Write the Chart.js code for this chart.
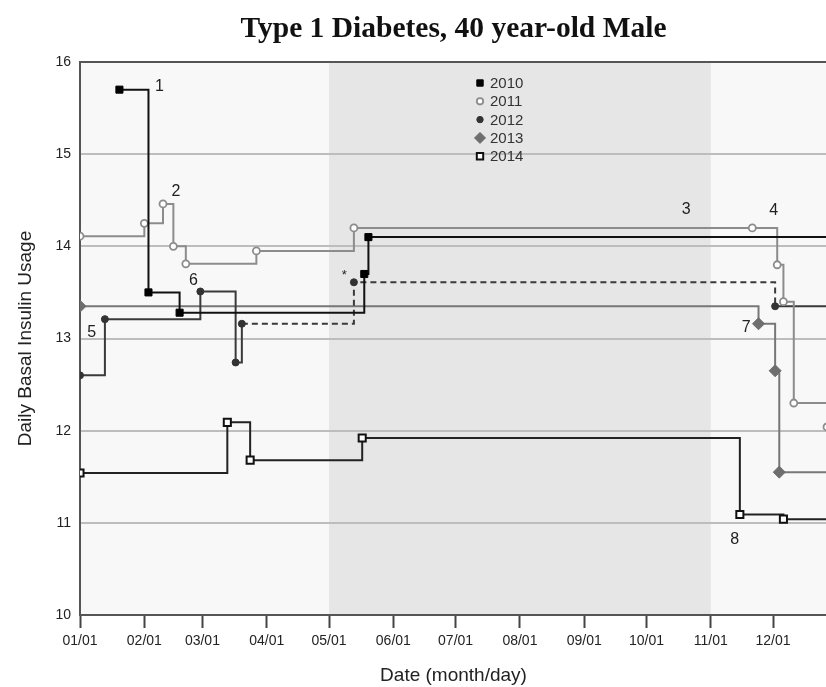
<!DOCTYPE html>
<html>
<head>
<meta charset="utf-8">
<script src="https://cdn.jsdelivr.net/npm/chart.js@4/dist/chart.umd.min.js"></script>
<style>
  body { margin: 0; background: #fff; overflow: hidden; }
</style>
</head>
<body>
<!-- canvas is a little wider than the window so the plot runs off the right edge like the source -->
<canvas id="insulin" width="834" height="687"></canvas>
<script>
// day of year (01/01 = 0) and daily basal units, one pair of arrays per year
const days2010 = [19, 33, 48, 137, 139, 360]
const vals2010 = [15.70, 13.50, 13.28, 13.70, 14.10, 14.10]

const days2011 = [0, 31, 40, 45, 51, 85, 132, 324, 336, 339, 344, 360]
const vals2011 = [14.11, 14.25, 14.46, 14.00, 13.81, 13.95, 14.20, 14.20, 13.80, 13.40, 12.30, 12.04]

const days2012 = [0, 12, 58, 75, 78, 132, 335, 360]
const vals2012 = [12.60, 13.21, 13.51, 12.74, 13.16, 13.61, 13.35, 13.35]

const days2013 = [0, 327, 335, 337, 360]
const vals2013 = [13.35, 13.16, 12.65, 11.55, 11.55]

const days2014 = [0, 71, 82, 136, 318, 339, 360]
const vals2014 = [11.54, 12.09, 11.68, 11.92, 11.09, 11.04, 11.04]

const monthDays = [0, 31, 59, 90, 120, 151, 181, 212, 243, 273, 304, 334]
const monthLabels = ['01/01', '02/01', '03/01', '04/01', '05/01', '06/01',
                     '07/01', '08/01', '09/01', '10/01', '11/01', '12/01']

// numbered notes on the chart
const noteText = ['1', '2', '3', '4', '5', '6', '7', '8', '*']
const noteDay  = [38.3, 46.3, 292.1, 334.3, 5.6, 54.7, 321.1, 315.5, 127.4]
const noteVal  = [15.73, 14.59, 14.40, 14.39, 13.06, 13.63, 13.12, 10.82, 13.68]

// grey band (summer months)
const bandStart = 120
const bandEnd = 304

const pts = (days, vals) => days.map((d, i) => ({ x: d, y: vals[i] }))
const hideLast = (n, r) => ctx => ctx.dataIndex === n - 1 ? 0 : r

const datasets = [
  {
    label: '2010', data: pts(days2010, vals2010), stepped: 'before',
    borderColor: '#111', borderWidth: 2,
    pointStyle: 'rect', pointRadius: hideLast(days2010.length, 5),
    pointBackgroundColor: '#000', pointBorderColor: '#000', pointBorderWidth: 1
  },
  {
    label: '2011', data: pts(days2011, vals2011), stepped: 'before',
    borderColor: '#8c8c8c', borderWidth: 2,
    pointStyle: 'circle', pointRadius: 3.5,
    pointBackgroundColor: '#fff', pointBorderColor: '#8c8c8c', pointBorderWidth: 1.8
  },
  {
    label: '2012', data: pts(days2012, vals2012), stepped: 'before',
    borderColor: '#3a3a3a', borderWidth: 2,
    pointStyle: 'circle', pointRadius: hideLast(days2012.length, 3.5),
    pointBackgroundColor: '#333', pointBorderColor: '#333', pointBorderWidth: 1,
    segment: {
      borderDash: ctx => (ctx.p0DataIndex === 4 || ctx.p0DataIndex === 5) ? [6, 4] : undefined
    }
  },
  {
    label: '2013', data: pts(days2013, vals2013), stepped: 'before',
    borderColor: '#777', borderWidth: 2,
    pointStyle: 'rectRot', pointRadius: hideLast(days2013.length, 6),
    pointBackgroundColor: '#6e6e6e', pointBorderColor: '#6e6e6e', pointBorderWidth: 1
  },
  {
    label: '2014', data: pts(days2014, vals2014), stepped: 'before',
    borderColor: '#222', borderWidth: 2,
    pointStyle: 'rect', pointRadius: hideLast(days2014.length, 5),
    pointBackgroundColor: '#fff', pointBorderColor: '#111', pointBorderWidth: 2
  }
]

const backdrop = {
  id: 'backdrop',
  beforeDraw(chart) {
    const { ctx, chartArea: a, scales: { x } } = chart
    ctx.save()
    ctx.fillStyle = '#f8f8f8'
    ctx.fillRect(a.left, a.top, a.right - a.left, a.bottom - a.top)
    ctx.fillStyle = '#e6e6e6'
    const x0 = x.getPixelForValue(bandStart)
    const x1 = x.getPixelForValue(bandEnd)
    ctx.fillRect(x0, a.top, x1 - x0, a.bottom - a.top)
    ctx.restore()
  }
}

const notesAndLegend = {
  id: 'notesAndLegend',
  afterDatasetsDraw(chart) {
    const { ctx, scales: { x, y } } = chart
    ctx.save()
    ctx.fillStyle = '#222'
    ctx.textAlign = 'center'
    ctx.textBaseline = 'middle'
    noteText.forEach((t, i) => {
      ctx.font = t === '*' ? '13px "Liberation Sans"' : '16px "Liberation Sans"'
      ctx.fillText(t, x.getPixelForValue(noteDay[i]), y.getPixelForValue(noteVal[i]))
    })

    // legend box inside the plot
    const lx = 480, ly = 83, step = 18.3
    ctx.font = '15px "Liberation Sans"'
    ctx.textAlign = 'left'
    chart.data.datasets.forEach((ds, i) => {
      const cy = ly + i * step
      ctx.fillStyle = ds.pointBackgroundColor
      ctx.strokeStyle = ds.pointBorderColor
      ctx.lineWidth = ds.pointBorderWidth
      const r = ds.pointStyle === 'rectRot' ? 5.5 : (ds.pointStyle === 'rect' ? 4.5 : 3.2)
      Chart.helpers.drawPoint(ctx, { pointStyle: ds.pointStyle, radius: r, rotation: 0, borderWidth: ds.pointBorderWidth }, lx, cy)
      ctx.fillStyle = '#333'
      ctx.fillText(ds.label, lx + 10, cy + 1)
    })
    ctx.restore()
  }
}

new Chart(document.getElementById('insulin'), {
  type: 'line',
  data: { datasets: datasets },
  options: {
    responsive: false,
    animation: false,
    layout: { padding: 0 },
    plugins: {
      legend: { display: false },
      tooltip: { enabled: false },
      title: {
        display: true,
        fullSize: false,
        text: 'Type 1 Diabetes, 40 year-old Male',
        color: '#111',
        font: { family: '"Liberation Serif"', size: 29.5, weight: 'bold', lineHeight: 1.2 },
        padding: { top: 12, bottom: 14.6 }
      }
    },
    scales: {
      x: {
        type: 'linear', min: 0, max: 360,
        afterBuildTicks: scale => { scale.ticks = monthDays.map(v => ({ value: v })) },
        afterFit: scale => { scale.height = 72 },
        ticks: {
          callback: (v, i) => monthLabels[i],
          color: '#222', font: { family: '"Liberation Sans"', size: 14 },
          padding: 5, maxRotation: 0, autoSkip: false
        },
        grid: { drawOnChartArea: false, drawTicks: true, tickLength: 13, tickColor: '#444', tickWidth: 2 },
        border: { color: '#555', width: 2 },
        title: {
          display: true, text: 'Date (month/day)', color: '#222',
          font: { family: '"Liberation Sans"', size: 19 },
          padding: { top: 2, bottom: 0 }
        }
      },
      y: {
        min: 10, max: 16,
        afterFit: scale => { scale.width = 80 },
        ticks: {
          stepSize: 1, color: '#222',
          font: { family: '"Liberation Sans"', size: 14 }, padding: 9
        },
        grid: {
          drawTicks: false,
          color: ctx => ctx.tick && ctx.tick.value === 16 ? '#555' : (ctx.tick && ctx.tick.value === 10 ? 'rgba(0,0,0,0)' : '#bdbdbd'),
          lineWidth: 2
        },
        border: { color: '#555', width: 2 },
        title: {
          display: true, text: 'Daily Basal Insulin Usage', color: '#222',
          font: { family: '"Liberation Sans"', size: 19 },
          padding: { top: 14, bottom: 0 }
        }
      }
    }
  },
  plugins: [backdrop, notesAndLegend]
})
</script>
</body>
</html>
